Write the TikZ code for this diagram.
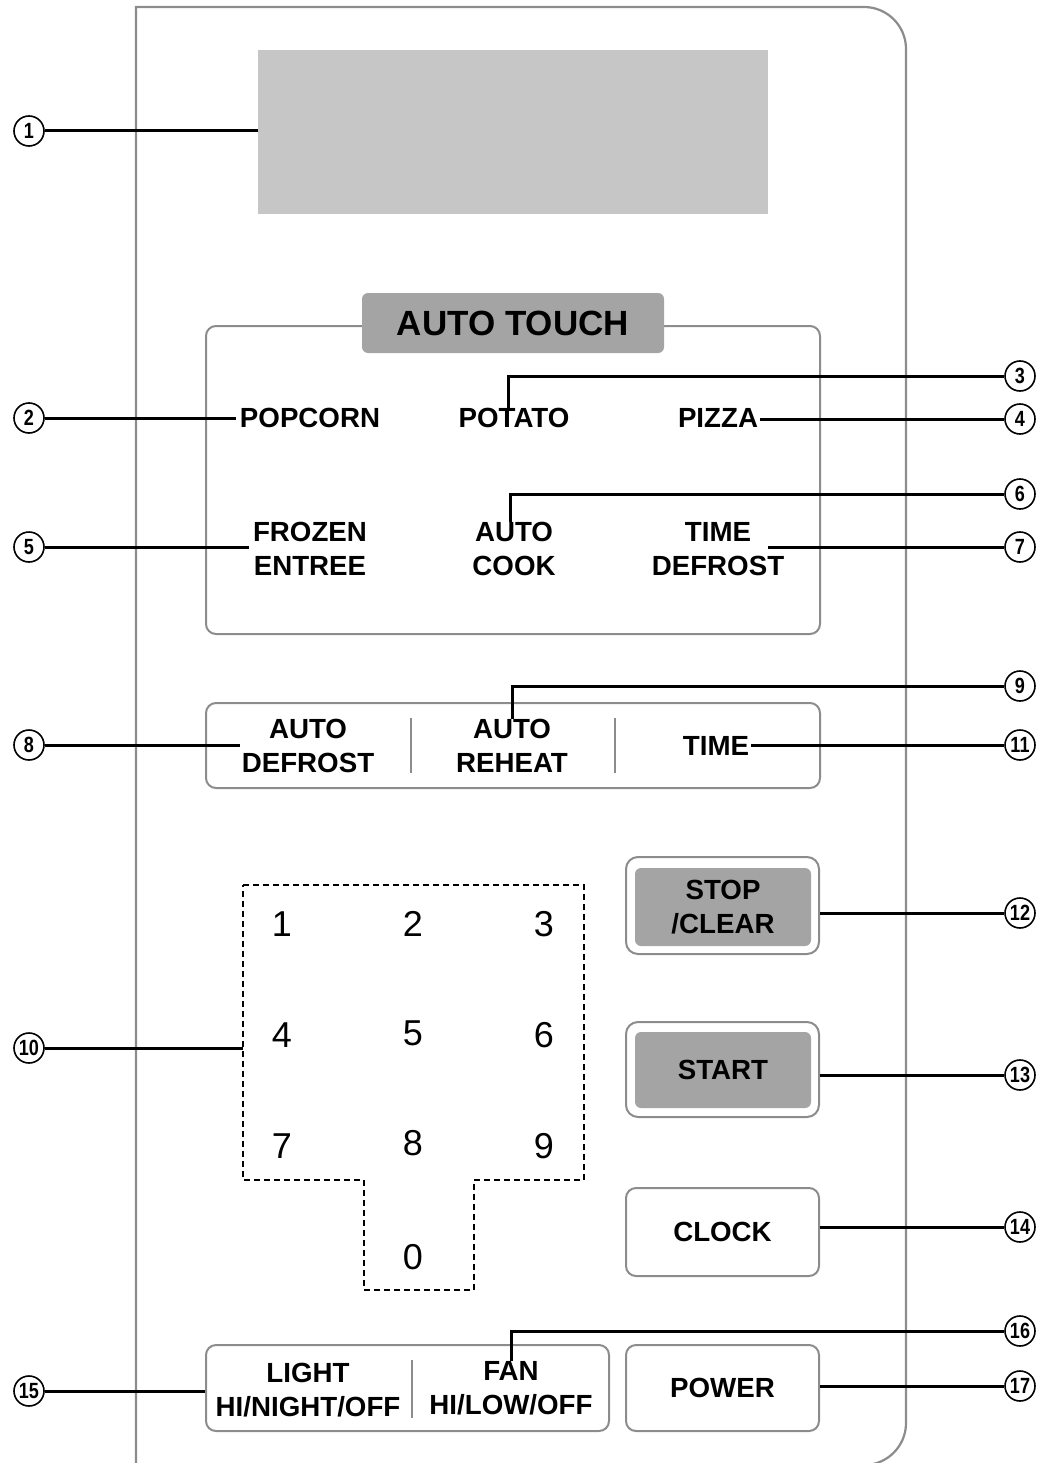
\documentclass[tikz,border=0pt]{standalone}
\usepackage{fontspec}
\setmainfont{Liberation Sans}
\newfontfamily\calloutfont[FakeStretch=0.82]{Liberation Sans}
\definecolor{panelgray}{HTML}{8C8C8C}
\definecolor{lcdgray}{HTML}{C6C6C6}
\definecolor{keygray}{HTML}{A4A4A4}

\begin{document}
\begin{tikzpicture}[x=1pt, y=-1pt,
  frame/.style={draw=panelgray, line width=2pt, rounded corners=10pt},
  key/.style={font=\bfseries\fontsize{27.7}{34}\selectfont, align=center, inner sep=0pt},
  digit/.style={font=\fontsize{36}{40}\selectfont, inner sep=0pt},
  callout/.style={circle, draw, line width=1.6pt, minimum size=30pt, inner sep=0pt,
    font=\calloutfont\bfseries\fontsize{22}{22}\selectfont},
  leader/.style={line width=3pt},
  divider/.style={draw=panelgray, line width=1.6pt}]
  \useasboundingbox (0,0) rectangle (1044,1463);

  % panel outline
  \draw[draw=panelgray, line width=2.2pt] (136,1470) -- (136,7) -- (500,7)
    [rounded corners=42pt] -- (906,7) -- (906,1465) -- (800,1465);

  % display
  \node[fill=lcdgray, minimum width=510pt, minimum height=164pt, inner sep=0pt] (lcd) at (513,132) {};

  % auto touch group
  \node[frame, minimum width=614pt, minimum height=308pt] (autobox) at (513,480) {};
  \node[fill=keygray, rounded corners=6pt, minimum width=302pt, minimum height=60pt, inner sep=0pt,
    font=\bfseries\fontsize{35}{35}\selectfont] (autotouch) at (513,323) {AUTO TOUCH};
  \node[key] (popcorn) at (310,418) {POPCORN};
  \node[key] (potato) at (514,418) {POTATO};
  \node[key] (pizza) at (718,418) {PIZZA};
  \node[key] (frozen) at (310,549) {FROZEN\\ENTREE};
  \node[key] (autocook) at (514,549) {AUTO\\COOK};
  \node[key] (tdef) at (718,549) {TIME\\DEFROST};

  % middle bar
  \node[frame, minimum width=614pt, minimum height=85pt] (midbar) at (513,745.5) {};
  \draw[divider] (411,718) -- (411,773);
  \draw[divider] (615,718) -- (615,773);
  \node[key] (autodef) at (308,746) {AUTO\\DEFROST};
  \node[key] (autoreheat) at (512,746) {AUTO\\REHEAT};
  \node[key] (time) at (716,746) {TIME};

  % number pad
  \draw[dashed, dash pattern=on 6pt off 4pt, line width=1.5pt]
    (243,885) -- (584,885) -- (584,1180) -- (474,1180) -- (474,1290)
    -- (364,1290) -- (364,1180) -- (243,1180) -- cycle;
  \coordinate (pad) at (243,1048);
  \foreach \d/\x/\y in {1/282/924, 2/413/924, 3/544/924,
                        4/282/1035, 5/413/1033, 6/544/1035,
                        7/282/1146, 8/413/1143, 9/544/1146, 0/413/1257}
    \node[digit] (d\d) at (\x,\y) {\d};

  % right keys
  \node[frame, rounded corners=12pt, minimum width=193pt, minimum height=97pt] (stop) at (722.5,905.5) {};
  \node[fill=keygray, rounded corners=6pt, minimum width=176pt, minimum height=78pt, key] at (723,907) {STOP\\/CLEAR};
  \node[frame, rounded corners=12pt, minimum width=193pt, minimum height=95pt] (start) at (722.5,1069.5) {};
  \node[fill=keygray, rounded corners=6pt, minimum width=176pt, minimum height=76pt, key] at (723,1070) {START};
  \node[frame, minimum width=193pt, minimum height=88pt, key] (clock) at (722.5,1232) {CLOCK};
  \node[frame, minimum width=193pt, minimum height=86pt, key] (power) at (722.5,1388) {POWER};

  % light / fan
  \node[frame, minimum width=403pt, minimum height=86pt] (lightfan) at (407.5,1388) {};
  \draw[divider] (412,1360) -- (412,1418);
  \node[key] (light) at (308,1390) {LIGHT\\HI/NIGHT/OFF};
  \node[key] (fan) at (511,1388) {FAN\\HI/LOW/OFF};

  % callouts
  \node[callout] (c1) at (29,131) {1};
  \node[callout] (c2) at (29,418) {2};
  \node[callout] (c3) at (1020,376) {3};
  \node[callout] (c4) at (1020,419) {4};
  \node[callout] (c5) at (29,547) {5};
  \node[callout] (c6) at (1020,494) {6};
  \node[callout] (c7) at (1020,547) {7};
  \node[callout] (c8) at (29,745) {8};
  \node[callout] (c9) at (1020,686) {9};
  \node[callout] (c10) at (29,1048) {10};
  \node[callout] (c11) at (1020,745) {11};
  \node[callout] (c12) at (1020,913) {12};
  \node[callout] (c13) at (1020,1075) {13};
  \node[callout] (c14) at (1020,1227) {14};
  \node[callout] (c15) at (29,1391) {15};
  \node[callout] (c16) at (1020,1331) {16};
  \node[callout] (c17) at (1020,1386) {17};

  \draw[leader] (c1) -- (lcd.west |- c1);
  \draw[leader] (c2) -- ([xshift=-4pt]popcorn.west |- c2);
  \draw[leader] (c3) -| ([xshift=-6pt]potato.north);
  \draw[leader] (c4) -- ([xshift=2pt]pizza.east |- c4);
  \draw[leader] (c5) -- ([xshift=-4pt]frozen.west |- c5);
  \draw[leader] (c6) -| ([xshift=-4pt]autocook.north);
  \draw[leader] (c7) -- ([xshift=-16pt]tdef.east |- c7);
  \draw[leader] (c8) -- ([xshift=-2pt]autodef.west |- c8);
  \draw[leader] (c9) -| (autoreheat.north);
  \draw[leader] (c10) -- (pad);
  \draw[leader] (c11) -- ([xshift=2pt]time.east |- c11);
  \draw[leader] (c12) -- (stop.east |- c12);
  \draw[leader] (c13) -- (start.east |- c13);
  \draw[leader] (c14) -- (clock.east |- c14);
  \draw[leader] (c15) -- (lightfan.west |- c15);
  \draw[leader] (c16) -| (fan.north);
  \draw[leader] (c17) -- (power.east |- c17);
\end{tikzpicture}
\end{document}
